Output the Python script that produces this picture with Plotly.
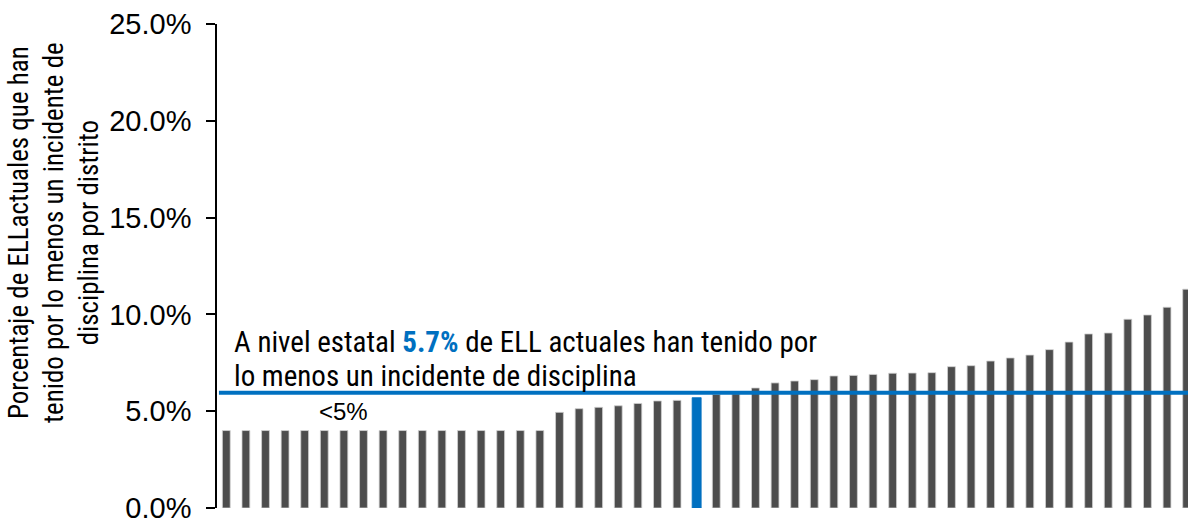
import plotly.graph_objects as go

# ---- data ----
districts = [f"D{i:02d}" for i in range(1, 51)]
pct_incident = [
    4.0, 4.0, 4.0, 4.0, 4.0, 4.0, 4.0, 4.0, 4.0, 4.0, 4.0, 4.0, 4.0, 4.0, 4.0, 4.0, 4.0,
    4.94, 5.13, 5.20, 5.28, 5.40, 5.53, 5.56,
    5.70,
    5.87, 5.90, 6.20, 6.46, 6.56, 6.63, 6.82, 6.85, 6.90, 6.96, 6.97, 6.99,
    7.30, 7.35, 7.59, 7.75, 7.90, 8.18, 8.57, 8.99, 9.04, 9.75, 9.97, 10.37, 11.30,
]
state_index = 24          # highlighted (statewide) bar
state_value_label = "5.7%"
state_line_value = 5.95
y_ticks = [0, 5, 10, 15, 20, 25]
y_tick_labels = ["0.0%", "5.0%", "10.0%", "15.0%", "20.0%", "25.0%"]

GRAY = "#4D4D4D"
BLUE = "#0070C0"
NARROW = "Liberation Sans Narrow, Arial Narrow, Roboto Condensed, Liberation Sans, sans-serif"
ARIAL = "Liberation Sans, Arial, sans-serif"

colors = [BLUE if i == state_index else GRAY for i in range(len(pct_incident))]
widths = [0.46 if i == state_index else 0.40 for i in range(len(pct_incident))]
line_cols = [BLUE if i == state_index else "#D0D0D0" for i in range(len(pct_incident))]

fig = go.Figure()
fig.add_trace(go.Bar(
    x=districts, y=pct_incident,
    marker=dict(color=colors, line=dict(color=line_cols, width=0.8)),
    width=widths,
    hoverinfo="skip",
))

fig.add_shape(type="line", xref="paper", x0=0.002, x1=1, yref="y",
              y0=state_line_value, y1=state_line_value,
              line=dict(color=BLUE, width=4), layer="above")

fig.add_annotation(
    xref="paper", x=0.0155, yref="y", y=8.57, xanchor="left", yanchor="middle",
    align="left", showarrow=False,
    text=("A nivel estatal <b><span style='color:%s'>%s</span></b> de ELL actuales han tenido por"
          % (BLUE, state_value_label)),
    font=dict(family=NARROW, size=29, color="#000000"),
)
fig.add_annotation(
    xref="paper", x=0.0155, yref="y", y=6.82, xanchor="left", yanchor="middle",
    align="left", showarrow=False,
    text="lo menos un incidente de disciplina",
    font=dict(family=NARROW, size=29, color="#000000"),
)
fig.add_annotation(
    xref="x", x=districts[6], yref="y", y=4.96, xanchor="center", yanchor="middle",
    showarrow=False, text="&lt;5%",
    font=dict(family=ARIAL, size=24, color="#000000"),
)
fig.add_annotation(
    xref="paper", x=-0.168, yref="paper", y=0.570, xanchor="center", yanchor="middle",
    textangle=-90, showarrow=False,
    text="Porcentaje de ELLactuales que han<br>tenido por lo menos un incidente de<br>disciplina por distrito",
    font=dict(family=NARROW, size=27, color="#000000"),
)

fig.update_layout(
    width=1188, height=525,
    margin=dict(l=217, r=0, t=24, b=17, autoexpand=False),
    paper_bgcolor="white", plot_bgcolor="white",
    showlegend=False,
    bargap=0.6,
    xaxis=dict(type="category", range=[-0.474, 49.07], showgrid=False, showline=False,
               showticklabels=False, ticks="", zeroline=False, fixedrange=True,
               automargin=False),
    yaxis=dict(range=[0, 25], tickvals=y_ticks, ticktext=y_tick_labels,
               showgrid=False, zeroline=False, showline=True, linecolor="#000000",
               linewidth=1.5, ticks="outside", ticklen=9, tickwidth=1.5,
               tickcolor="#000000", ticklabelstandoff=9, automargin=False,
               tickfont=dict(family=ARIAL, size=29, color="#000000"), fixedrange=True),
)

fig.write_html("out.html", config={"displayModeBar": False},
               post_script="document.body.style.margin='0';document.body.style.overflow='hidden';")
